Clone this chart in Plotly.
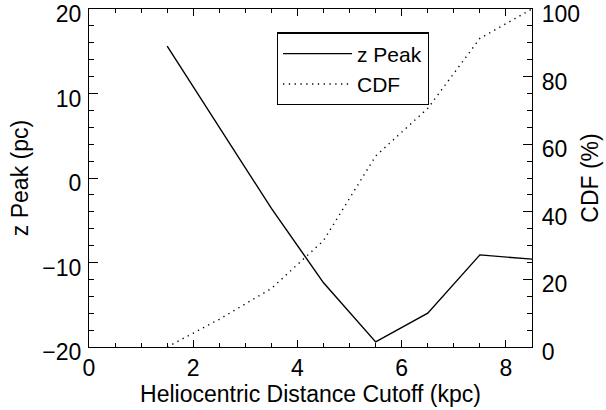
import plotly.graph_objects as go

cutoff_kpc = [1.5, 2.5, 3.5, 4.5, 5.5, 6.5, 7.5, 8.5]
z_peak_pc = [15.6, 6.0, -3.6, -12.4, -19.4, -16.0, -9.1, -9.6]
cdf_pct = [0.0, 8.2, 17.3, 31.5, 56.5, 70.6, 91.3, 100.0]

x_ticks = [0, 2, 4, 6, 8]
z_ticks = [-20, -10, 0, 10, 20]
cdf_ticks = [0, 20, 40, 60, 80, 100]

FONT = "Liberation Sans, Arial, Helvetica, sans-serif"

fig = go.Figure()
fig.add_trace(go.Scatter(x=cutoff_kpc, y=z_peak_pc, mode="lines", name="z Peak",
                         line=dict(color="black", width=1.4), yaxis="y"))
fig.add_trace(go.Scatter(x=cutoff_kpc, y=cdf_pct, mode="lines", name="CDF",
                         line=dict(color="black", width=1.4, dash="1.3px,4.5px"), yaxis="y2"))

fig.update_layout(
    width=606, height=410,
    margin=dict(l=89, r=74, t=9, b=63),
    paper_bgcolor="white", plot_bgcolor="white",
    font=dict(family=FONT, size=23, color="black"),
    showlegend=True,
    legend=dict(x=0.424, y=0.931, xanchor="left", yanchor="top",
                bordercolor="black", borderwidth=1.2, bgcolor="white",
                font=dict(size=21, family=FONT), tracegroupgap=0,
                itemwidth=69),
    xaxis=dict(range=[0, 8.5], tickvals=x_ticks, ticks="inside", ticklen=7,
               tickwidth=1.3, tickcolor="black", showline=True, linecolor="black",
               linewidth=1.3, mirror="ticks", showgrid=False, zeroline=False,
               automargin=False, ticklabeloverflow="allow",
               minor=dict(dtick=0.5, ticks="inside", ticklen=3.5, tickwidth=1.2,
                          tickcolor="black", showgrid=False),
               title=dict(text="Heliocentric Distance Cutoff (kpc)", standoff=6,
                          font=dict(size=23)),
               tickfont=dict(size=23)),
    yaxis=dict(range=[-20, 20], tickvals=z_ticks, ticks="inside", ticklen=9,
               tickwidth=1.3, tickcolor="black", showline=True, linecolor="black",
               linewidth=1.3, showgrid=False, zeroline=False, automargin=False,
               ticklabelstandoff=2, ticklabeloverflow="allow", ticklabelshift=5,
               minor=dict(dtick=2, ticks="inside", ticklen=4.7, tickwidth=1.2,
                          tickcolor="black", showgrid=False),
               title=dict(text="z Peak (pc)", standoff=7, font=dict(size=23)),
               tickfont=dict(size=23)),
    yaxis2=dict(range=[0, 100], tickvals=cdf_ticks, overlaying="y", side="right",
                ticks="inside", ticklen=9, tickwidth=1.3, tickcolor="black",
                showline=True, linecolor="black", linewidth=1.3, showgrid=False,
                zeroline=False, automargin=False, ticklabelstandoff=4,
                ticklabeloverflow="allow", ticklabelshift=5,
                minor=dict(dtick=5, ticks="inside", ticklen=4.5, tickwidth=1.2,
                           tickcolor="black", showgrid=False),
                title=dict(text="CDF (%)", standoff=2, font=dict(size=23)),
                tickfont=dict(size=23)),
)

fig.write_html("out.html",
               config={"displayModeBar": False},
               post_script="document.body.style.margin='0';document.body.style.padding='0';")
